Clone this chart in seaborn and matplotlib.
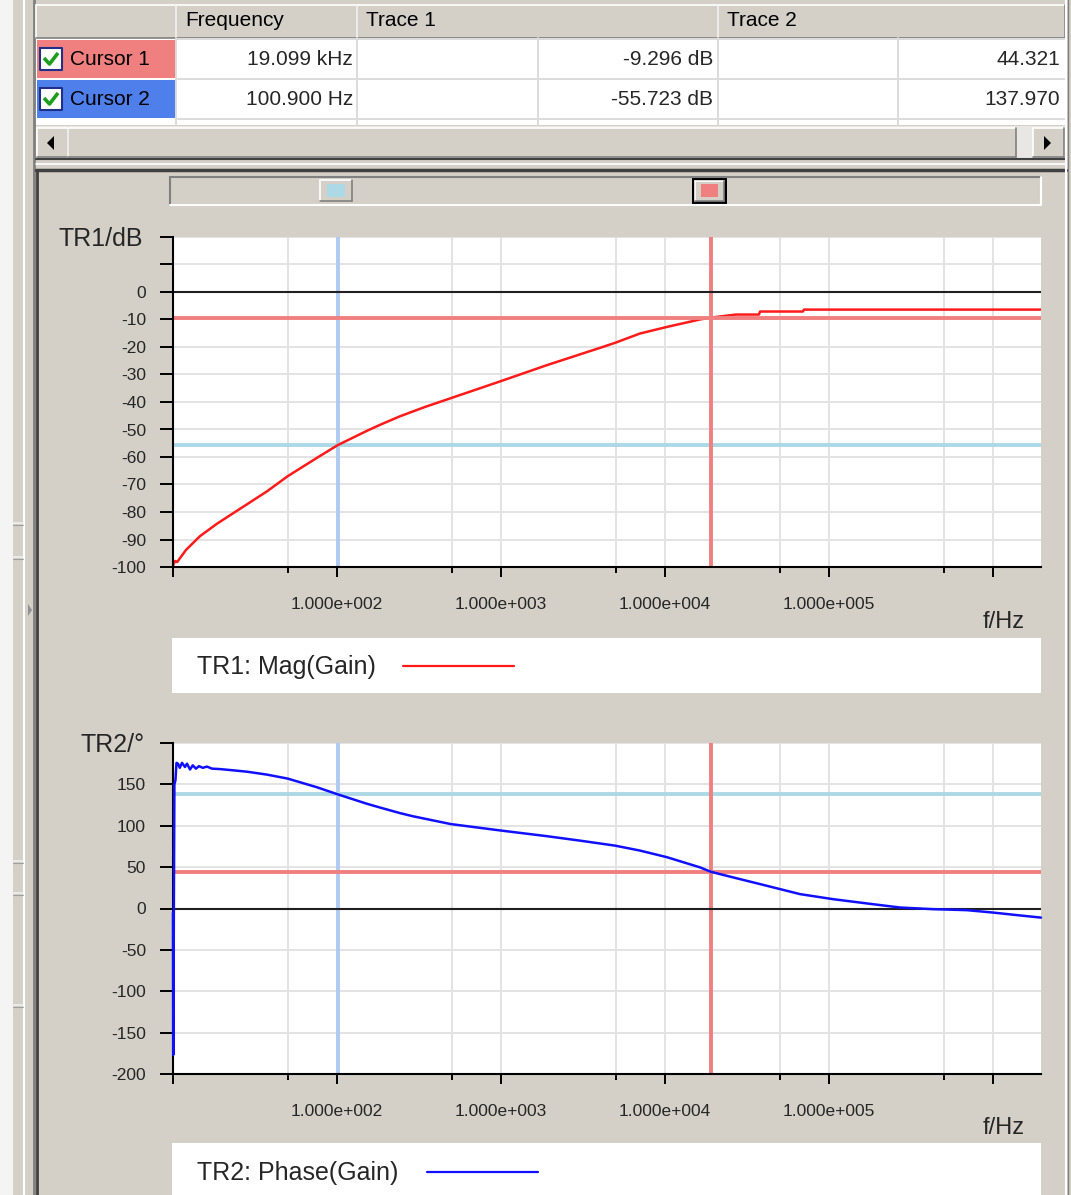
import matplotlib
matplotlib.use("Agg")
import matplotlib.pyplot as plt
import seaborn as sns
from matplotlib.patches import Rectangle, Polygon
from matplotlib.lines import Line2D
from matplotlib.ticker import FixedLocator, NullFormatter

# ---------------- data ----------------
mag_freq = [10.0, 10.3, 10.6, 12.0, 14.6, 18.5, 23.2, 37.4, 50.0, 75.5, 100.9, 152.0, 183.0,
            242.0, 344.0, 495.0, 1000.0, 1905.0, 4020.0, 4955.0, 7040.0, 10280.0, 16300.0,
            19099.0, 27100.0, 37400.0, 38000.0, 69300.0, 70400.0, 1963000.0]
mag_db = [-99.5, -97.8, -98.2, -93.8, -88.8, -84.3, -80.5, -72.5, -67.0, -60.3, -55.7, -50.5,
          -48.3, -45.2, -41.8, -38.6, -32.4, -26.6, -20.3, -18.5, -15.1, -12.7, -10.0,
          -9.3, -8.2, -8.2, -7.1, -7.1, -6.4, -6.4]

phase_freq = [10.0, 10.03, 10.07, 10.12, 10.2, 10.35, 10.5, 10.73, 11.0, 11.35, 11.83,
              12.17, 12.7, 13.2, 13.8, 14.4, 15.2, 16.1, 17.3, 19.3, 23.2, 28.3, 37.4,
              50.0, 75.5, 100.9, 152.0, 183.0, 242.0, 290.0, 495.0, 1000.0, 1905.0,
              3035.0, 4955.0, 7040.0, 10280.0, 16300.0, 19099.0, 26000.0, 41900.0,
              66500.0, 105700.0, 185500.0, 271000.0, 430600.0, 693000.0, 1000000.0,
              1400000.0, 1963000.0]
phase_deg = [-5.0, -177.0, -168.0, 0.0, 150.0, 155.0, 176.0, 175.0, 170.0, 176.0, 171.0,
             175.0, 168.0, 173.0, 169.0, 172.0, 170.0, 171.5, 169.0, 168.5, 167.0, 165.3,
             161.8, 157.0, 146.5, 138.0, 126.6, 122.0, 115.3, 111.5, 102.0, 94.2, 87.4,
             82.0, 76.0, 70.0, 62.0, 49.8, 44.3, 37.6, 27.4,
             17.4, 11.3, 5.2, 1.2, -0.8, -2.0, -4.9, -8.0, -11.0]

table_headers = ["Frequency", "Trace 1", "Trace 2"]
cursor_names = ["Cursor 1", "Cursor 2"]
cursor_freq_hz = [19099.0, 100.9]
cursor_freq_text = ["19.099 kHz", "100.900 Hz"]
cursor_mag_db = [-9.296, -55.723]
cursor_phase_deg = [44.321, 137.970]

x_major_ticks = [1e1, 1e2, 1e3, 1e4, 1e5, 1e6]
x_major_labels = ["", "1.000e+002", "1.000e+003", "1.000e+004", "1.000e+005", ""]
x_minor_ticks = [5e1, 5e2, 5e3, 5e4, 5e5]
mag_ticks = [-100, -90, -80, -70, -60, -50, -40, -30, -20, -10, 0, 10, 20]
mag_tick_labels = ["-100", "-90", "-80", "-70", "-60", "-50", "-40", "-30", "-20", "-10", "0", "", ""]
phase_ticks = [-200, -150, -100, -50, 0, 50, 100, 150, 200]
phase_tick_labels = ["-200", "-150", "-100", "-50", "0", "50", "100", "150", ""]

# ---------------- style ----------------
sns.set_style("white")
plt.rcParams['font.family'] = ['Liberation Sans', 'DejaVu Sans']
plt.rcParams['axes.unicode_minus'] = False

W, H = 1071, 1195
GREY = '#D4D0C8'
DARK = '#808080'
fig = plt.figure(figsize=(W / 100, H / 100), dpi=100, facecolor=GREY)


def fx(x):
    return x / W


def fy(y):
    return 1 - y / H


def rect(x0, y0, x1, y1, **kw):
    kw.setdefault('edgecolor', 'none')
    fig.add_artist(Rectangle((fx(x0), fy(y1)), (x1 - x0) / W, (y1 - y0) / H,
                             transform=fig.transFigure, **kw))


def line(xs, ys, color, lw=1.0, **kw):
    fig.add_artist(Line2D([fx(v) for v in xs], [fy(v) for v in ys],
                          transform=fig.transFigure, color=color, lw=lw, **kw))


def text(x, y, s, **kw):
    fig.text(fx(x), fy(y), s, **kw)


def bevel(x0, y0, x1, y1, face=GREY, raised=True, lw=1.2):
    rect(x0, y0, x1, y1, facecolor=face)
    light, dark = ('white', DARK) if raised else (DARK, 'white')
    line([x0, x1], [y0, y0], light, lw)
    line([x0, x0], [y0, y1], light, lw)
    line([x0, x1], [y1, y1], dark, lw)
    line([x1, x1], [y0, y1], dark, lw)


# ---------------- window chrome ----------------
rect(0, 0, 13, H, facecolor='#F4F4F4')
line([24, 24], [0, H], 'white', 1.5)
line([34.5, 34.5], [0, H], DARK, 2.0)
for yy in [523, 557, 861, 893, 1005]:
    line([13, 23], [yy, yy], '#F0F0F0', 1.2)
    line([13, 23], [yy + 1.5, yy + 1.5], '#A0A0A0', 0.8)
fig.add_artist(Polygon([[fx(28), fy(604)], [fx(32), fy(610)], [fx(28), fy(616)]],
                       closed=True, transform=fig.transFigure, facecolor='#909090',
                       edgecolor='none'))

# ---------------- table ----------------
hdr_x = [36, 176, 357, 718, 1065]
for i in range(4):
    bevel(hdr_x[i], 5, hdr_x[i + 1], 38)
for i, h in enumerate(table_headers):
    text(hdr_x[i + 1] + 9, 21, h, fontsize=15, ha='left', va='center', color='black')

rect(36, 38, 1065, 125, facecolor='white')
row_tops = [40, 80]
row_colors = ['#F08080', '#4F7FEA']
for r in range(2):
    y0 = row_tops[r]
    rect(37, y0, 176, y0 + 38, facecolor=row_colors[r])
    # checkbox
    rect(40, y0 + 8, 62, y0 + 30, facecolor='white')
    line([40, 62, 62, 40, 40], [y0 + 8, y0 + 8, y0 + 30, y0 + 30, y0 + 8], '#1F2F8A', 1.5)
    line([44, 49.5, 58], [y0 + 18, y0 + 24, y0 + 13], '#1E9E1E', 2.6,
         solid_capstyle='butt')
    text(70, y0 + 19.5, cursor_names[r], fontsize=15, ha='left', va='center', color='black')
    text(353, y0 + 19.5, cursor_freq_text[r], fontsize=15, ha='right', va='center')
    text(713, y0 + 19.5, f"{cursor_mag_db[r]:.3f} dB", fontsize=15, ha='right', va='center')
    text(1060, y0 + 19.5, f"{cursor_phase_deg[r]:.3f}", fontsize=15, ha='right', va='center')
for yy in [39, 79, 119]:
    line([176, 1065], [yy, yy], '#DCDCDC', 1.4)
for xx in [176, 357, 538, 718, 898]:
    line([xx, xx], [38, 125], '#DCDCDC', 1.4)

# scrollbar
rect(36, 126, 1065, 159, facecolor='#E9E7E3')
bevel(37, 128, 68, 157)
bevel(68, 128, 1016, 157)
bevel(1033, 128, 1064, 157)
fig.add_artist(Polygon([[fx(54), fy(136)], [fx(54), fy(150)], [fx(47), fy(143)]], closed=True,
                       transform=fig.transFigure, facecolor='black', edgecolor='none'))
fig.add_artist(Polygon([[fx(1044), fy(136)], [fx(1044), fy(150)], [fx(1051), fy(143)]],
                       closed=True, transform=fig.transFigure, facecolor='black',
                       edgecolor='none'))
line([36, 1066], [159, 159], '#404040', 1.5)
line([36, 1066], [163.5, 163.5], 'white', 1.2)

# plot panel border
line([36, 1066], [170, 170], '#404040', 2.5)
line([36.5, 36.5], [170, H], '#404040', 2.0)
line([1066, 1066], [0, H], 'white', 1.5)
line([1068, 1068], [0, H], DARK, 1.0)

# cursor slider
rect(170, 177, 1041, 205, facecolor=GREY)
line([170, 1041], [177, 177], DARK, 1.5)
line([170, 170], [177, 205], DARK, 1.5)
line([170, 1041], [205, 205], 'white', 1.5)
line([1041, 1041], [177, 205], 'white', 1.5)
bevel(320, 180, 352, 201)
rect(327, 184, 345, 197, facecolor='#ADD8E6')
rect(692, 178, 727, 204, facecolor='black')
bevel(695, 181, 724, 201)
rect(701, 184, 718, 197, facecolor='#F08080')

# ---------------- axes ----------------
AX_L, AX_R = 173, 1041
XMAX = 1963000.0


def make_axes(top, bottom):
    ax = fig.add_axes([fx(AX_L), fy(bottom), (AX_R - AX_L) / W, (bottom - top) / H])
    ax.set_facecolor('white')
    return ax


def style_axes(ax, yticks, ylabels, ylim):
    ax.set_xscale('log')
    ax.set_xlim(10, XMAX)
    ax.set_ylim(*ylim)
    ax.xaxis.set_major_locator(FixedLocator(x_major_ticks))
    ax.set_xticks(x_major_ticks, x_major_labels)
    ax.xaxis.set_minor_locator(FixedLocator(x_minor_ticks))
    ax.xaxis.set_minor_formatter(NullFormatter())
    ax.set_yticks(yticks, ylabels)
    ax.grid(True, which='both', color='#E3E3E3', lw=1.4)
    ax.set_axisbelow(True)
    for s in ['top', 'right']:
        ax.spines[s].set_visible(False)
    for s in ['left', 'bottom']:
        ax.spines[s].set_color('black')
        ax.spines[s].set_linewidth(1.5)
    ax.tick_params(axis='y', which='major', length=9.5, width=1.4, pad=10,
                   labelsize=12.5, direction='out', color='black', left=True)
    ax.tick_params(axis='x', which='major', length=7.5, width=1.4, pad=14,
                   labelsize=12.5, direction='out', color='black', bottom=True)
    ax.tick_params(axis='x', which='minor', length=4.5, width=1.4, direction='out',
                   color='black', bottom=True)
    ax.set_xlabel('')
    ax.set_ylabel('')


# magnitude
ax1 = make_axes(237, 567)
ax1.axvline(cursor_freq_hz[1], color='#AFCBF3', lw=2.8, zorder=1.5)
ax1.axhline(cursor_mag_db[1], color='#ADD8E6', lw=2.8, zorder=1.5)
sns.lineplot(x=mag_freq, y=mag_db, ax=ax1, color='#FF1A1A', lw=1.8, estimator=None,
             sort=False, zorder=2)
ax1.axvline(cursor_freq_hz[0], color='#F08080', lw=2.8, zorder=2.2)
ax1.axhline(cursor_mag_db[0], color='#F08080', lw=2.8, zorder=2.2)
ax1.axhline(0, color='#202020', lw=1.5, zorder=2.4)
style_axes(ax1, mag_ticks, mag_tick_labels, (-100, 20))

# phase
ax2 = make_axes(743, 1074)
ax2.axvline(cursor_freq_hz[1], color='#AFCBF3', lw=2.8, zorder=1.5)
ax2.axhline(cursor_phase_deg[1], color='#ADD8E6', lw=2.8, zorder=1.5)
ax2.axvline(cursor_freq_hz[0], color='#F08080', lw=2.8, zorder=1.6)
ax2.axhline(cursor_phase_deg[0], color='#F08080', lw=2.8, zorder=1.6)
sns.lineplot(x=phase_freq, y=phase_deg, ax=ax2, color='#1010FF', lw=1.8, estimator=None,
             sort=False, zorder=3)
ax2.axhline(0, color='#202020', lw=1.5, zorder=2.4)
style_axes(ax2, phase_ticks, phase_tick_labels, (-200, 200))
for l in ax2.get_lines():
    if l.get_color() == '#1010FF':
        l.set_clip_on(False)

# axis titles
text(143, 239, "TR1/dB", fontsize=18, ha='right', va='center')
text(145, 745, "TR2/°", fontsize=18, ha='right', va='center')
text(1025, 622, "f/Hz", fontsize=17, ha='right', va='center')
text(1025, 1128, "f/Hz", fontsize=17, ha='right', va='center')

# legend boxes
rect(172, 638, 1041, 693, facecolor='white')
text(197, 667, "TR1: Mag(Gain)", fontsize=18, ha='left', va='center')
line([403, 514], [666, 666], '#FF1A1A', 1.6)
rect(172, 1143, 1041, H + 5, facecolor='white')
text(197, 1173, "TR2: Phase(Gain)", fontsize=18, ha='left', va='center')
line([427, 538], [1172, 1172], '#1010FF', 1.6)

fig.savefig("out.png", dpi=100, facecolor=GREY)
